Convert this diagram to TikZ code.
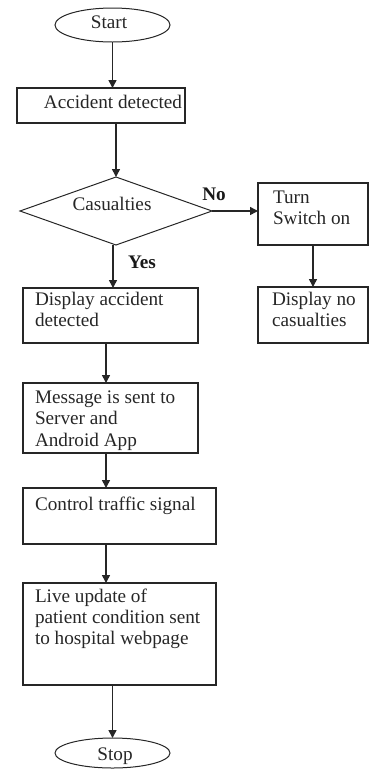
\documentclass[tikz,border=0pt]{standalone}
\usepackage{fontspec}
\setmainfont{Liberation Serif}
\usetikzlibrary{arrows.meta,shapes.geometric}
\newcommand{\fcfont}{\fontsize{19.2}{21.3}\selectfont}
\begin{document}
\begin{tikzpicture}[x=1pt,y=-1pt,
  every node/.style={inner sep=0pt, outer sep=0pt},
  stepbox/.style={draw, line width=1.3pt, draw=black!85, rectangle},
  term/.style={draw, line width=1pt, draw=black!85, ellipse},
  decision/.style={draw, line width=1pt, draw=black!85, diamond},
  txt/.style={anchor=north west, align=left, font=\fcfont, text=black!85},
  stxt/.style={anchor=base, font=\fcfont, text=black!85},
  lbl/.style={anchor=base, font=\fcfont\bfseries, text=black!90},
  arr/.style={-{Triangle[length=8pt,width=8pt]}, line width=1.5pt, draw=black!85, fill=black!85}]
\useasboundingbox (0,0) rectangle (369,769);
% shapes
\node[term, minimum width=115pt, minimum height=34pt] (start) at (112.5,25) {};
\node[stepbox, minimum width=168pt, minimum height=35pt] (acc) at (101,105.5) {};
\node[decision, minimum width=192pt, minimum height=68pt] (dia) at (116,211) {};
\node[stepbox, minimum width=110pt, minimum height=62pt] (turn) at (313,214) {};
\node[stepbox, minimum width=110pt, minimum height=56pt] (nocas) at (313,315) {};
\node[stepbox, minimum width=175pt, minimum height=55pt] (disp) at (110.5,315.5) {};
\node[stepbox, minimum width=175pt, minimum height=70pt] (msg) at (110.5,418) {};
\node[stepbox, minimum width=193pt, minimum height=56pt] (ctrl) at (119.5,516) {};
\node[stepbox, minimum width=193pt, minimum height=102pt] (live) at (119.5,634) {};
\node[term, minimum width=115pt, minimum height=30pt] (stop) at (112.5,753) {};
% texts
\node[stxt] (tstart) at (109,28) {Start};
\node[stxt] (tacc) at (113,108) {Accident detected};
\node[stxt] (tdia) at (112,210) {Casualties};
\node[txt] (tturn) at (273,188.1) {\strut Turn\\Switch on};
\node[txt] (tnocas) at (272,290.1) {\strut Display no\\casualties};
\node[txt] (tdisp) at (35,290.1) {\strut Display accident\\detected};
\node[txt] (tmsg) at (35,388.6) {\strut Message is sent to\\Server and\\Android App};
\node[stxt, anchor=base west] (tctrl) at (35,510) {Control traffic signal};
\node[txt] (tlive) at (35,587.1) {\strut Live update of\\patient condition sent\\to hospital webpage};
\node[stxt] (tstop) at (115,760) {Stop};
\node[lbl] (no) at (214,200) {No};
\node[lbl] (yes) at (142,268) {Yes};
% connectors
\draw[arr] (start.south) -- (start.south |- acc.north);
\draw[arr] (dia.north |- acc.south) -- (dia.north);
\draw[arr] (dia.east) -- (dia.east -| turn.west);
\draw[arr] (turn.south) -- (turn.south |- nocas.north);
\draw[arr] ([xshift=-3pt]dia.south) -- ([xshift=-3pt]dia.south |- disp.north);
\draw[arr] ([xshift=-4.5pt]disp.south) -- ([xshift=-4.5pt]disp.south |- msg.north);
\draw[arr] ([xshift=-4.5pt]msg.south) -- ([xshift=-4.5pt]msg.south |- ctrl.north);
\draw[arr] ([xshift=-13.5pt]ctrl.south) -- ([xshift=-13.5pt]ctrl.south |- live.north);
\draw[arr] (stop.north |- live.south) -- (stop.north);
\end{tikzpicture}
\end{document}
